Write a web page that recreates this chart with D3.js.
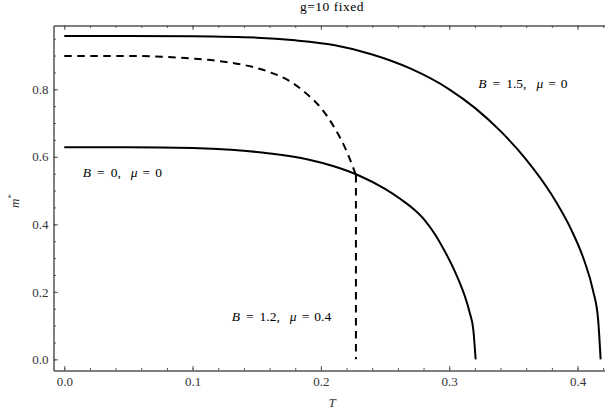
<!DOCTYPE html>
<html>
<head>
<meta charset="utf-8">
<script src="https://cdn.jsdelivr.net/npm/d3@7"></script>
<style>
  body { margin: 0; background: #fff; }
  text { font-family: "Liberation Serif", "Times New Roman", serif; }
</style>
</head>
<body>
<svg id="chart" width="605" height="414"></svg>
<script>
// curve B = 0, mu = 0 (solid)
var tB0 = [0, 0.05, 0.10, 0.13, 0.16, 0.19, 0.21, 0.23, 0.25, 0.262, 0.272, 0.281, 0.289, 0.296, 0.302, 0.307, 0.312, 0.316, 0.3188, 0.3206];
var mB0 = [0.628, 0.628, 0.626, 0.621, 0.610, 0.592, 0.572, 0.544, 0.505, 0.475, 0.446, 0.412, 0.370, 0.324, 0.280, 0.238, 0.189, 0.138, 0.087, 0.0];

// curve B = 1.5, mu = 0 (solid)
var tB15 = [0, 0.05, 0.10, 0.15, 0.18, 0.21, 0.24, 0.27, 0.30, 0.32, 0.34, 0.36, 0.38, 0.395, 0.405, 0.412, 0.416, 0.418];
var mB15 = [0.958, 0.958, 0.957, 0.953, 0.945, 0.931, 0.903, 0.861, 0.800, 0.745, 0.676, 0.592, 0.487, 0.385, 0.295, 0.205, 0.120, 0.0];

// curve B = 1.2, mu = 0.4 (dashed), then vertical drop at tJump
var tB12 = [0, 0.05, 0.08, 0.10, 0.12, 0.14, 0.16, 0.175, 0.19, 0.20, 0.21, 0.22, 0.2273];
var mB12 = [0.899, 0.899, 0.896, 0.891, 0.884, 0.872, 0.851, 0.826, 0.783, 0.745, 0.690, 0.617, 0.546];
var tJump = 0.2273;

var xMajor = [0, 0.1, 0.2, 0.3, 0.4];
var yMajor = [0, 0.2, 0.4, 0.6, 0.8];

var labels = [
  {B: "1.5", mu: "0", t: 0.3227, m: 0.803},
  {B: "0", mu: "0", t: 0.0144, m: 0.541},
  {B: "1.2", mu: "0.4", t: 0.1305, m: 0.1145}
];

var serif = "'Liberation Serif', 'Times New Roman', serif";
var svg = d3.select("#chart");

var x = d3.scaleLinear().domain([-0.0084, 0.4264]).range([53.5, 611.4]);
var y = d3.scaleLinear().domain([-0.033, 0.989]).range([370.5, 25.5]);

var frameColor = "#555";
var labelColor = "#333";

// minor tick values
var xMinor = d3.range(0, 0.43, 0.02);
var yMinor = d3.range(0, 0.99, 0.05);

function styleAxis(g) {
  g.attr("font-family", serif);
  g.select(".domain").attr("stroke", frameColor);
  g.selectAll(".tick line").attr("stroke", frameColor);
  g.selectAll(".tick text").attr("fill", labelColor)
    .style("font-size", "13px").style("font-family", serif);
}

// bottom
svg.append("g").attr("transform", "translate(0,370.5)")
  .call(d3.axisBottom(x).tickValues(xMinor).tickFormat("").tickSizeInner(-2.5).tickSizeOuter(0))
  .call(styleAxis);
svg.append("g").attr("transform", "translate(0,370.5)")
  .call(d3.axisBottom(x).tickValues(xMajor).tickFormat(d3.format(".1f")).tickSizeInner(-4.5).tickSizeOuter(0).tickPadding(6.5))
  .call(styleAxis);

// top
svg.append("g").attr("transform", "translate(0,25.5)")
  .call(d3.axisTop(x).tickValues(xMinor).tickFormat("").tickSizeInner(-2.5).tickSizeOuter(0))
  .call(styleAxis);
svg.append("g").attr("transform", "translate(0,25.5)")
  .call(d3.axisTop(x).tickValues(xMajor).tickFormat("").tickSizeInner(-4.5).tickSizeOuter(0))
  .call(styleAxis);

// left
svg.append("g").attr("transform", "translate(53.5,0)")
  .call(d3.axisLeft(y).tickValues(yMinor).tickFormat("").tickSizeInner(-2.5).tickSizeOuter(0))
  .call(styleAxis);
svg.append("g").attr("transform", "translate(53.5,0)")
  .call(d3.axisLeft(y).tickValues(yMajor).tickFormat(d3.format(".1f")).tickSizeInner(-4.5).tickSizeOuter(0).tickPadding(5))
  .call(styleAxis);

var line = d3.line()
    .x(function(d) { return x(d[0]); })
    .y(function(d) { return y(d[1]); })
    .curve(d3.curveMonotoneX);

function zip(a, b) { return a.map(function(v, i) { return [v, b[i]]; }); }

var plot = svg.append("g");

plot.append("path")
    .datum(zip(tB0, mB0))
    .attr("d", line)
    .attr("fill", "none").attr("stroke", "#000").attr("stroke-width", 2);

plot.append("path")
    .datum(zip(tB15, mB15))
    .attr("d", line)
    .attr("fill", "none").attr("stroke", "#000").attr("stroke-width", 2);

plot.append("path")
    .datum(zip(tB12, mB12))
    .attr("d", line)
    .attr("fill", "none").attr("stroke", "#000").attr("stroke-width", 2)
    .attr("stroke-dasharray", "7.5,5.5");

plot.append("path")
    .datum([[tJump, mB12[mB12.length - 1]], [tJump, 0]])
    .attr("d", d3.line().x(function(d) { return x(d[0]); }).y(function(d) { return y(d[1]); }))
    .attr("fill", "none").attr("stroke", "#000").attr("stroke-width", 2)
    .attr("stroke-dasharray", "7.5,5.5");

// curve labels, with math-style spacing round "="
labels.forEach(function(l) {
  var t = plot.append("text")
      .attr("x", x(l.t)).attr("y", y(l.m))
      .style("font-size", "13.5px")
      .style("font-family", serif)
      .attr("fill", "#000");
  t.append("tspan").style("font-style", "italic").text("B");
  t.append("tspan").attr("dx", 6).text("=");
  t.append("tspan").attr("dx", 6).text(l.B + ",");
  t.append("tspan").attr("dx", 10).style("font-style", "italic").text("\u03bc");
  t.append("tspan").attr("dx", 5).text("=");
  t.append("tspan").attr("dx", 5).text(l.mu);
});

// title and axis labels
svg.append("text")
    .attr("x", 332).attr("y", 11)
    .attr("text-anchor", "middle")
    .style("font-size", "13.5px")
    .style("letter-spacing", "0.5px")
    .style("font-family", serif)
    .attr("fill", "#000")
    .text("g=10 fixed");

svg.append("text")
    .attr("x", 332).attr("y", 407)
    .attr("text-anchor", "middle")
    .style("font-size", "13px").style("font-style", "italic")
    .style("font-family", serif)
    .attr("fill", labelColor)
    .text("T");

var yl = svg.append("text")
    .attr("transform", "translate(19,201) rotate(-90)")
    .attr("text-anchor", "middle")
    .style("font-size", "13px")
    .style("font-family", serif)
    .attr("fill", labelColor);
yl.append("tspan").style("font-style", "italic").text("m");
yl.append("tspan").attr("dy", -5).style("font-size", "9px").text("*");
</script>
</body>
</html>
